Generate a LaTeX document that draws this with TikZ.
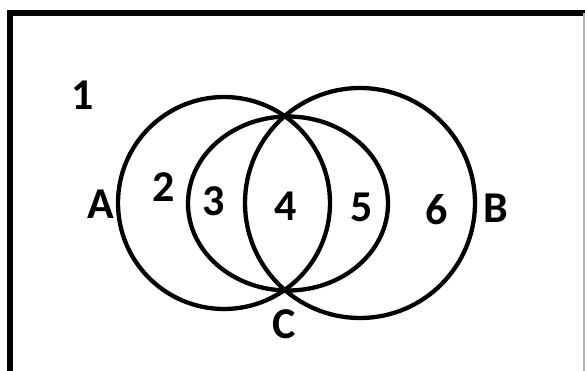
\documentclass[tikz,border=0pt]{standalone}
\usepackage{fontspec}
\setmainfont{Carlito}
\usetikzlibrary{positioning}

\begin{document}
\begin{tikzpicture}[x=1pt, y=-1pt,
  ring/.style={draw, line width=4.3pt},
  lbl/.style={font=\fontsize{44}{44}\selectfont\bfseries, inner sep=0pt}
]
  \useasboundingbox (0,0) rectangle (585,371);
  % frame
  \draw[line width=6pt] (9.5,371) -- (9.5,13) -- (585,13);
  \draw[gray!60, line width=1.2pt] (584,13) -- (584,371);

  % the three sets
  \draw[ring] (224,203) circle [radius=106];
  \draw[ring] (360,203) circle [radius=115];
  \draw[ring] (288,203.5) ellipse [x radius=100, y radius=87];

  % regions and set names
  \node[lbl] (r1) at (83,95) {1};
  \node[lbl] (r2) at (164,187) {2};
  \node[lbl] (r3) at (214,201) {3};
  \node[lbl] (r4) at (286,206) {4};
  \node[lbl] (r5) at (362,207) {5};
  \node[lbl] (r6) at (437,210) {6};
  \node[lbl] (a) at (101,204) {A};
  \node[lbl] (b) at (496,208) {B};
  \node[lbl] (c) at (284,324) {C};
\end{tikzpicture}
\end{document}
